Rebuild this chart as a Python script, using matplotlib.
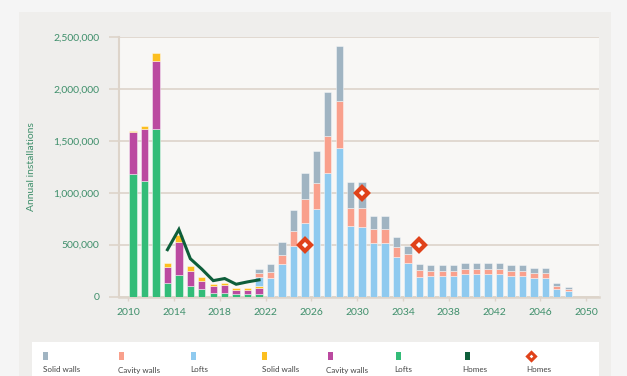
import numpy as np
import matplotlib
matplotlib.use("Agg")
import matplotlib.pyplot as plt
from matplotlib.patches import Rectangle
from matplotlib.lines import Line2D
from matplotlib.ticker import FuncFormatter

plt.rcParams['font.family'] = ['Lato', 'DejaVu Sans']

# historical installations, 2010-2021
hist_years = list(range(2010, 2022))
hist_lofts = [1180000, 1110000, 1615000, 130000, 210000, 100000, 72000, 37000, 37000, 24000, 24000, 24000]
hist_cavity = [400000, 505000, 650000, 158000, 312000, 150000, 80000, 65000, 75000, 40000, 42000, 61000]
hist_solid = [15000, 25000, 85000, 38000, 75000, 45000, 33000, 22000, 22000, 15000, 16000, 20000]

# homes (line), 2013-2021
home_years = list(range(2013, 2022))
home_values = [451000, 646000, 364000, 264000, 153000, 173000, 118000, 141000, 160000]

# pathway installations, 2021-2048
fut_years = list(range(2021, 2049))
fut_lofts = [87000, 180000, 312000, 487000, 710000, 847000, 1190000, 1432000, 678000, 672000,
             516000, 516000, 380000, 322000, 186000, 196000, 196000, 196000, 215000, 215000,
             215000, 215000, 199000, 199000, 175000, 175000, 76000, 53000]
fut_cavity = [39000, 52000, 90000, 146000, 226000, 242000, 357000, 447000, 178000, 184000,
              136000, 136000, 97000, 91000, 71000, 49000, 49000, 49000, 52000, 52000,
              52000, 52000, 46000, 46000, 51000, 51000, 26000, 20000]
fut_solid = [36000, 77000, 123000, 200000, 255000, 311000, 425000, 537000, 243000, 243000,
             123000, 123000, 98000, 71000, 52000, 54000, 57000, 57000, 55000, 55000,
             55000, 55000, 57000, 57000, 48000, 48000, 26000, 16000]

# homes milestones (diamonds)
target_years = [2025, 2030, 2035]
target_values = [500000, 1000000, 500000]

legend_labels = ['Solid walls', 'Cavity walls', 'Lofts', 'Solid walls', 'Cavity walls',
                 'Lofts', 'Homes', 'Homes']

C_FSOLID = '#a0b4c2'
C_FCAV = '#f9a08c'
C_FLOFT = '#8fcaef'
C_HSOLID = '#fcbf1f'
C_HCAV = '#bb4aa0'
C_HLOFT = '#33bc78'
C_HOMES = '#0e5e3a'
C_TARGET = '#e0421a'
GRID = '#ddd4ca'
TXT = '#3f8f6b'

W, H = 627, 376
fig = plt.figure(figsize=(W / 100, H / 100), dpi=100, facecolor='#f5f5f5')

# background panel and legend box
fig.add_artist(Rectangle((19 / W, 0), 592 / W, 1 - 12 / H, transform=fig.transFigure,
                         facecolor='#efeeec', edgecolor='none', zorder=0))
fig.add_artist(Rectangle((32 / W, 0), 567 / W, 34 / H, transform=fig.transFigure,
                         facecolor='white', edgecolor='none', zorder=1))

ax = fig.add_axes([119 / W, 1 - 296.5 / H, (599 - 119) / W, (296.5 - 37) / H])
ax.set_facecolor('#f8f7f5')

off = 0.42
bw = 0.64
hx = np.array(hist_years) + off
fx = np.array(fut_years) + off
hl = np.array(hist_lofts)
hc = np.array(hist_cavity)
hs = np.array(hist_solid)
edge = dict(edgecolor='#ffffff80', linewidth=0.6, zorder=3)
ax.bar(hx, hl, bw, color=C_HLOFT, **edge)
ax.bar(hx, hc, bw, bottom=hl, color=C_HCAV, **edge)
ax.bar(hx, hs, bw, bottom=hl + hc, color=C_HSOLID, **edge)

# pathway bars sit on top of the historical total in 2021
base = np.zeros(len(fut_years))
base[0] = (hl + hc + hs)[-1]
fl = np.array(fut_lofts)
fc = np.array(fut_cavity)
fs = np.array(fut_solid)
ax.bar(fx, fl, bw, bottom=base, color=C_FLOFT, **edge)
ax.bar(fx, fc, bw, bottom=base + fl, color=C_FCAV, **edge)
ax.bar(fx, fs, bw, bottom=base + fl + fc, color=C_FSOLID, **edge)

ax.plot(np.array(home_years) + off, home_values, color=C_HOMES, lw=2.2, zorder=4,
        solid_joinstyle='miter')
ax.plot(np.array(target_years) + off, target_values, ls='none', marker='D', ms=6,
        mfc='white', mec=C_TARGET, mew=3, zorder=5)

ax.set_xlim(2009.19, 2051.11)
ax.set_ylim(0, 2500000)
ax.set_yticks(np.arange(0, 2500001, 500000))
ax.yaxis.set_major_formatter(FuncFormatter(lambda v, p: f'{int(v):,}'))
ax.set_xticks(range(2010, 2051, 4))
ax.grid(axis='y', color=GRID, lw=1.2, zorder=1)
ax.set_axisbelow(True)
ax.tick_params(axis='y', length=7.2, width=1.2, color=GRID, pad=7, labelsize=7.5,
               labelcolor=TXT)
ax.tick_params(axis='x', length=3, width=1, color=GRID, pad=5, labelsize=7.5,
               labelcolor=TXT)
for s in ['top', 'right']:
    ax.spines[s].set_visible(False)
ax.spines['left'].set_color(GRID)
ax.spines['left'].set_linewidth(1.5)
ax.spines['bottom'].set_color(GRID)
ax.spines['bottom'].set_linewidth(1.8)
ax.set_ylabel('Annual installations', color=TXT, fontsize=7.5)
ax.yaxis.set_label_coords(-(119 - 36) / (599 - 119), 0.5)

# legend drawn by hand along the bottom strip
patch_x = [43, 119, 191, 262, 328, 396, 465]
patch_c = [C_FSOLID, C_FCAV, C_FLOFT, C_HSOLID, C_HCAV, C_HLOFT, C_HOMES]
for px, pc in zip(patch_x, patch_c):
    fig.add_artist(Rectangle((px / W, 1 - 360 / H), 5 / W, 8 / H, transform=fig.transFigure,
                             facecolor=pc, edgecolor='none', zorder=2))
fig.add_artist(Line2D([531 / W], [1 - 356 / H], transform=fig.transFigure, marker='D',
                      ms=4.5, mfc='white', mec=C_TARGET, mew=2.2, ls='none', zorder=2))
label_x = [43, 118, 190, 262, 326, 394, 462, 526]
for lx, lab in zip(label_x, legend_labels):
    fig.text(lx / W, 1 - 370 / H, lab, fontsize=5.8, color='#444444', va='center',
             ha='left', zorder=3)

fig.savefig('out.png', dpi=100, facecolor=fig.get_facecolor())
